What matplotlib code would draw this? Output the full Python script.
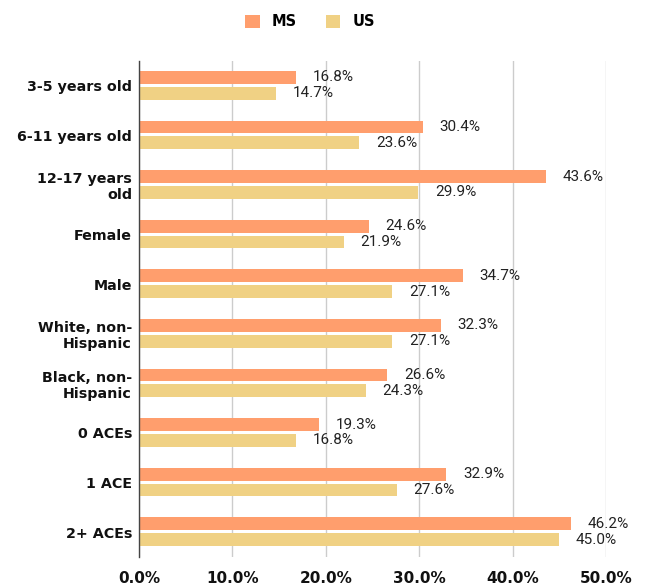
import numpy as np
import matplotlib
matplotlib.use('Agg')
from matplotlib import pyplot as plt

plt.rcParams['font.family'] = ['DejaVu Sans']

categories = ['3-5 years old', '6-11 years old', '12-17 years\nold', 'Female', 'Male',
              'White, non-\nHispanic', 'Black, non-\nHispanic', '0 ACEs', '1 ACE', '2+ ACEs']
ms = [16.8, 30.4, 43.6, 24.6, 34.7, 32.3, 26.6, 19.3, 32.9, 46.2]
us = [14.7, 23.6, 29.9, 21.9, 27.1, 27.1, 24.3, 16.8, 27.6, 45.0]
xticks = [0, 10, 20, 30, 40, 50]

ms_color = '#ff9e6d'
us_color = '#f0d184'

fig = plt.figure(figsize=(6.46, 5.88), dpi=100)
ax = fig.add_axes([139 / 646, 1 - 557 / 588, (606 - 139) / 646, (557 - 61) / 588])

y = np.arange(len(categories))
h = 0.257
gap = 0.06
b1 = ax.barh(y - h / 2 - gap / 2 - 0.01, ms, height=h, color=ms_color, label='MS')
b2 = ax.barh(y + h / 2 + gap / 2 - 0.01, us, height=h, color=us_color, label='US')

for bars, vals in ((b1, ms), (b2, us)):
    for bar, v in zip(bars, vals):
        ax.annotate(f'{v:.1f}%', (v, bar.get_y() + bar.get_height() / 2),
                    xytext=(12, 0), textcoords='offset points',
                    ha='left', va='center', fontsize=11, color='#222222',
                    family=['Roboto', 'DejaVu Sans'])

ax.set_xlim(0, 50)
ax.set_ylim(len(categories) - 0.5, -0.5)
ax.set_yticks(y)
ax.set_yticklabels(categories, fontsize=10.3, fontweight='bold', color='#111111',
                   linespacing=1.15)
ax.set_xticks(xticks)
ax.set_xticklabels([f'{t:.1f}%' for t in xticks], fontsize=11, fontweight='bold',
                   color='#111111')
ax.tick_params(axis='both', length=0)
ax.tick_params(axis='y', pad=5)
ax.tick_params(axis='x', pad=10)

ax.grid(axis='x', color='#cccccc', linewidth=1)
ax.set_axisbelow(True)
for s in ('top', 'right', 'bottom'):
    ax.spines[s].set_visible(False)
ax.spines['left'].set_color('#444444')
ax.spines['left'].set_linewidth(1)
ax.spines['left'].set_zorder(3)

fig.legend(handles=[b1, b2], labels=['MS', 'US'], loc='center',
           bbox_to_anchor=(310 / 646, 1 - 22 / 588), ncol=2, frameon=False,
           prop={'weight': 'bold', 'size': 10.5}, handlelength=1.0, handleheight=1.0,
           columnspacing=2.0, handletextpad=0.8)

fig.savefig('out.png', dpi=100)
